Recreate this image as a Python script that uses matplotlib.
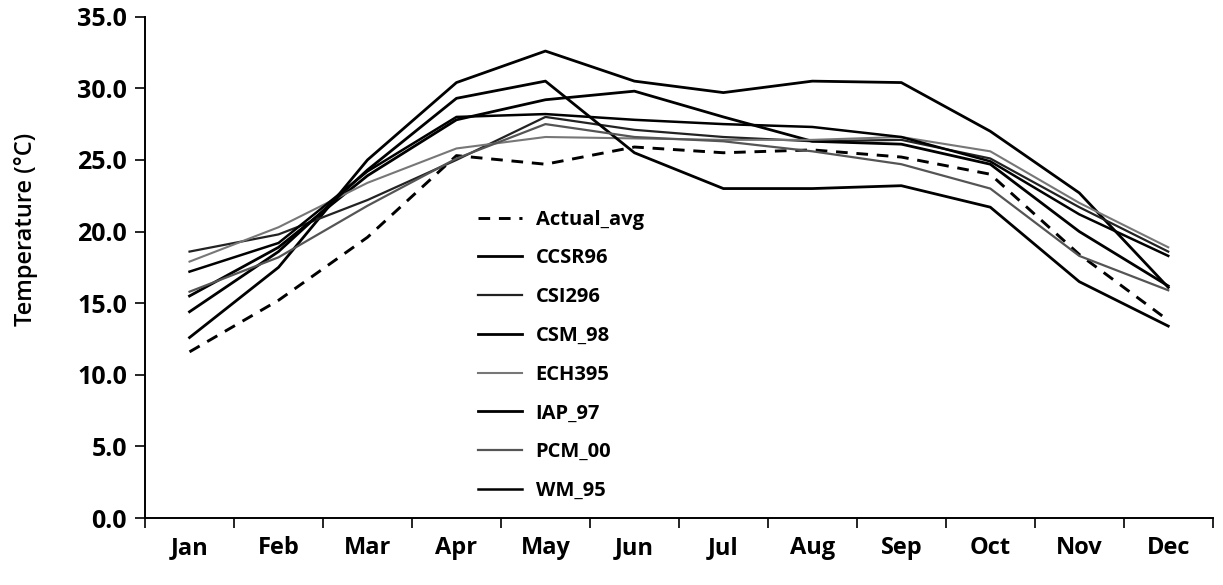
import numpy as np
from matplotlib import pyplot as plt

plt.rcParams['font.family'] = ['Open Sans', 'DejaVu Sans']

months = ['Jan', 'Feb', 'Mar', 'Apr', 'May', 'Jun', 'Jul', 'Aug', 'Sep', 'Oct', 'Nov', 'Dec']

actual_avg = [11.6, 15.2, 19.6, 25.3, 24.7, 25.9, 25.5, 25.7, 25.2, 24.0, 18.4, 13.8]
ccsr96 = [12.6, 17.5, 25.0, 30.4, 32.6, 30.5, 29.7, 30.5, 30.4, 27.0, 22.7, 16.1]
csi296 = [18.6, 19.8, 22.2, 25.0, 28.0, 27.1, 26.6, 26.3, 26.4, 25.1, 21.7, 18.6]
csm_98 = [15.5, 18.9, 23.9, 27.8, 29.2, 29.8, 28.0, 26.3, 26.1, 24.7, 20.0, 16.2]
ech395 = [17.9, 20.3, 23.4, 25.8, 26.6, 26.5, 26.4, 26.4, 26.6, 25.6, 22.0, 18.9]
iap_97 = [14.4, 18.6, 24.3, 29.3, 30.5, 25.5, 23.0, 23.0, 23.2, 21.7, 16.5, 13.4]
pcm_00 = [15.8, 18.2, 21.8, 25.1, 27.5, 26.6, 26.3, 25.6, 24.7, 23.0, 18.3, 15.9]
wm_95 = [17.2, 19.2, 24.2, 28.0, 28.2, 27.8, 27.5, 27.3, 26.6, 24.9, 21.2, 18.3]

x = np.arange(len(months))

fig = plt.figure(figsize=(12.23, 5.85), dpi=100)
ax = fig.add_axes([0.1186, 0.1145, 0.873, 0.857])

ax.plot(x, actual_avg, color='black', lw=2.1, ls=(0, (4, 3)), label='Actual_avg')
ax.plot(x, ccsr96, color='black', lw=2.0, label='CCSR96')
ax.plot(x, csi296, color='#222222', lw=1.6, label='CSI296')
ax.plot(x, csm_98, color='black', lw=2.0, label='CSM_98')
ax.plot(x, ech395, color='#777777', lw=1.5, label='ECH395')
ax.plot(x, iap_97, color='black', lw=2.0, label='IAP_97')
ax.plot(x, pcm_00, color='#555555', lw=1.6, label='PCM_00')
ax.plot(x, wm_95, color='black', lw=1.8, label='WM_95')

ax.set_xlim(-0.5, len(months) - 0.5)
ax.set_ylim(0, 35)

# tick marks between months, labels at the centres
ax.set_xticks(np.arange(-0.5, len(months), 1.0))
ax.set_xticklabels([])
ax.set_xticks(x, minor=True)
ax.set_xticklabels(months, minor=True, fontsize=17, fontweight='bold')
ax.tick_params(axis='x', which='major', direction='out', length=7, width=1.2)
ax.tick_params(axis='x', which='minor', length=0, pad=13)

ax.set_yticks(np.arange(0, 35.1, 5))
ax.set_yticklabels(['%.1f' % v for v in np.arange(0, 35.1, 5)], fontsize=18, fontweight='bold')
ax.tick_params(axis='y', direction='out', length=7, width=1.2, pad=6)

ax.set_ylabel('Temperature (°C)', fontsize=17, fontweight='semibold')
ax.yaxis.set_label_coords(-0.1, 0.575)

for s in ['top', 'right']:
    ax.spines[s].set_visible(False)
for s in ['left', 'bottom']:
    ax.spines[s].set_linewidth(1.4)

leg = ax.legend(loc='upper left', bbox_to_anchor=(0.312, 0.615), frameon=False,
                borderaxespad=0, borderpad=0, handlelength=2.2, handletextpad=0.65,
                labelspacing=0.93, prop={'size': 14.5, 'weight': 'bold'})

plt.savefig('out.png', dpi=100)
plt.close()
